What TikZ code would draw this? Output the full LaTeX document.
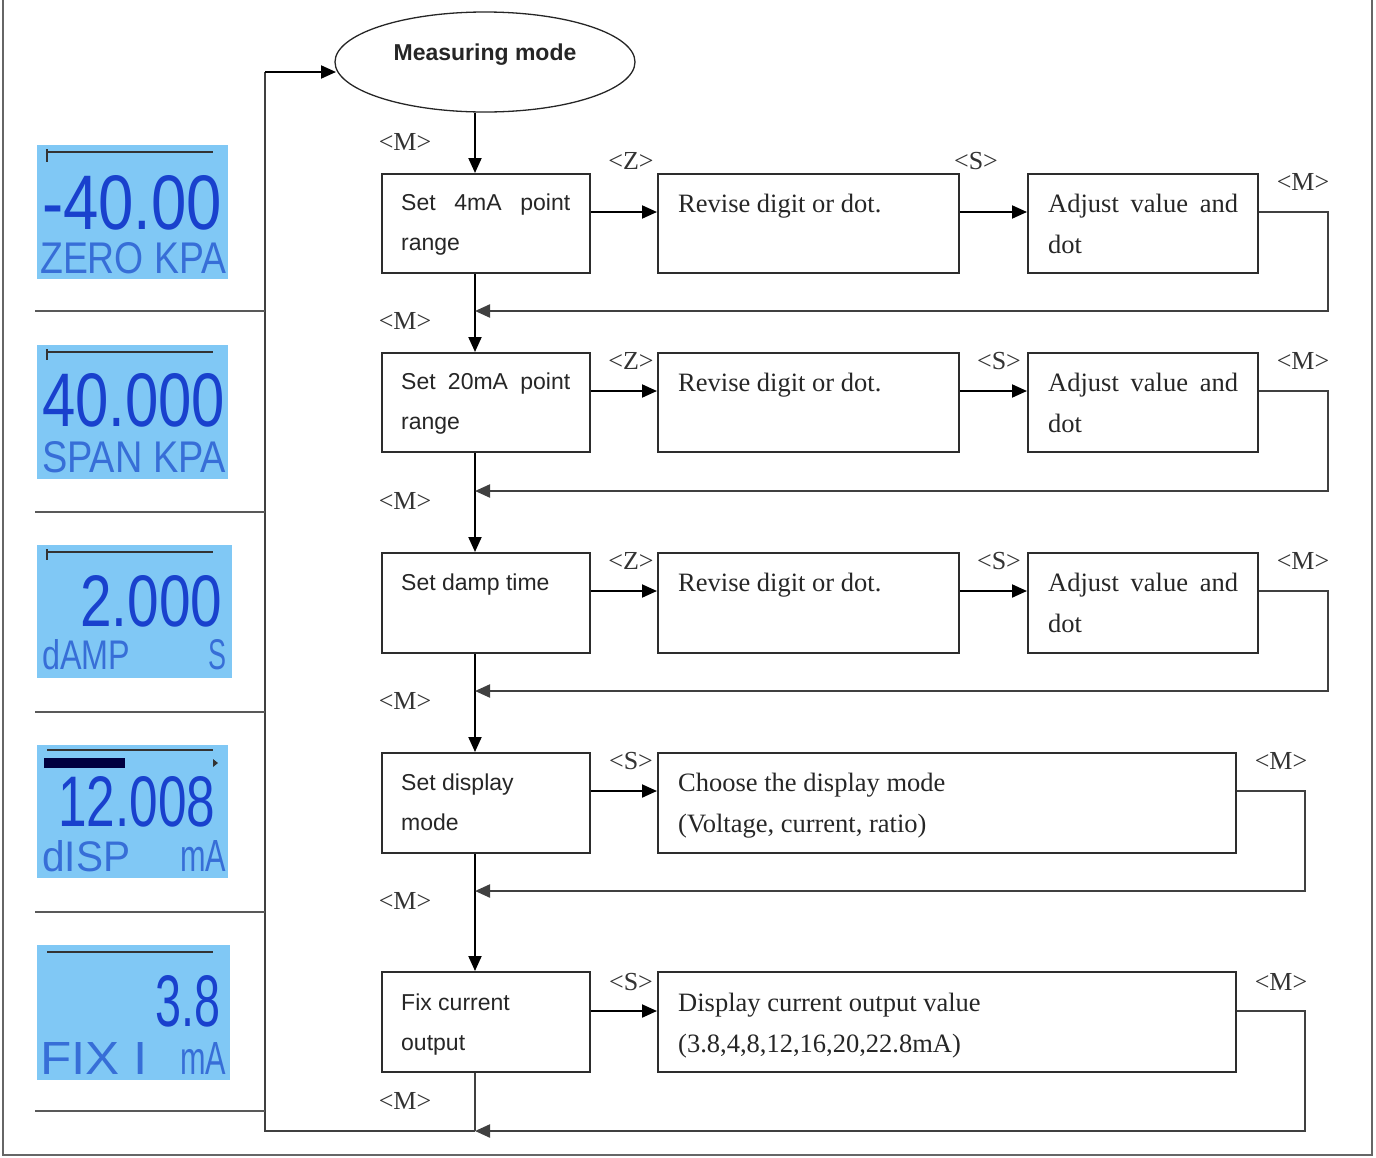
\documentclass[tikz,border=0pt]{standalone}
\usepackage{fontspec}
\setmainfont{Liberation Serif}
\setsansfont{Liberation Sans}
\usepackage{graphicx}
\usetikzlibrary{arrows.meta,shapes.geometric}
\definecolor{lcdbg}{RGB}{128,200,245}
\definecolor{lcdfg}{RGB}{25,65,205}
\definecolor{lcdlt}{RGB}{55,110,215}
\definecolor{boxln}{RGB}{45,45,45}
\begin{document}
\begin{tikzpicture}[x=1pt,y=-1pt,
  stepbox/.style={draw=boxln,line width=1.8pt,rectangle,inner sep=0pt,anchor=north west},
  lcd/.style={fill=lcdbg,draw=none,rectangle,inner sep=0pt,anchor=north west},
  arr/.style={draw=black,line width=2pt,-{Triangle[length=15pt,width=13pt]}},
  ret/.style={draw=black!75,line width=2.2pt,-{Triangle[length=15pt,width=13pt]}},
  ln/.style={draw=black!75,line width=2pt},
  sep/.style={draw=black!65,line width=1.4pt},
  sanstxt/.style={font=\sffamily\fontsize{23}{28}\selectfont,anchor=base west,inner sep=0pt,text=black!85},
  sertxt/.style={font=\fontsize{26.5}{32}\selectfont,anchor=base west,inner sep=0pt,text=black!85},
  keylbl/.style={font=\fontsize{26}{30}\selectfont,inner sep=0pt,text=black!80},
  big/.style={anchor=south west,inner sep=0pt,text=lcdfg,font=\sffamily},
  small/.style={anchor=south west,inner sep=0pt,text=lcdlt,font=\sffamily},
]
\useasboundingbox (0,0) rectangle (1376,1157);
% outer frame
\draw[black!60,line width=1.2pt] (3,0) -- (3,1155) -- (1372,1155) -- (1372,0);

% ---------- ellipse ----------
\node[draw=black!85,ellipse,line width=1.3pt,minimum width=300pt,minimum height=100pt,inner sep=0pt] (mm) at (485,62) {};
\node[font=\sffamily\bfseries\fontsize{23}{28}\selectfont,inner sep=0pt,text=black!85] (mmt) at (485,55) {Measuring mode};

% ---------- boxes ----------
\node[stepbox,minimum width=208pt,minimum height=99pt] (a1) at (381,173) {};
\node[stepbox,minimum width=301pt,minimum height=99pt] (b1) at (657,173) {};
\node[stepbox,minimum width=230pt,minimum height=99pt] (c1) at (1027,173) {};

\node[stepbox,minimum width=208pt,minimum height=99pt] (a2) at (381,352) {};
\node[stepbox,minimum width=301pt,minimum height=99pt] (b2) at (657,352) {};
\node[stepbox,minimum width=230pt,minimum height=99pt] (c2) at (1027,352) {};

\node[stepbox,minimum width=208pt,minimum height=100pt] (a3) at (381,552) {};
\node[stepbox,minimum width=301pt,minimum height=100pt] (b3) at (657,552) {};
\node[stepbox,minimum width=230pt,minimum height=100pt] (c3) at (1027,552) {};

\node[stepbox,minimum width=208pt,minimum height=100pt] (a4) at (381,752) {};
\node[stepbox,minimum width=578pt,minimum height=100pt] (b4) at (657,752) {};

\node[stepbox,minimum width=208pt,minimum height=100pt] (a5) at (381,971) {};
\node[stepbox,minimum width=578pt,minimum height=100pt] (b5) at (657,971) {};

% ---------- box texts ----------
\node[sanstxt] (ta1a) at (401,210) {\makebox[169pt][s]{Set 4mA point}};
\node[sanstxt] (ta1b) at (401,250) {range};
\node[sertxt] (tb1a) at (678,212) {Revise digit or dot.};
\node[sertxt] (tc1a) at (1048,212) {\makebox[190pt][s]{Adjust value and}};
\node[sertxt] (tc1b) at (1048,253) {dot};

\node[sanstxt] (ta2a) at (401,389) {\makebox[169pt][s]{Set 20mA point}};
\node[sanstxt] (ta2b) at (401,429) {range};
\node[sertxt] (tb2a) at (678,391) {Revise digit or dot.};
\node[sertxt] (tc2a) at (1048,391) {\makebox[190pt][s]{Adjust value and}};
\node[sertxt] (tc2b) at (1048,432) {dot};

\node[sanstxt] (ta3a) at (401,590) {Set damp time};
\node[sertxt] (tb3a) at (678,591) {Revise digit or dot.};
\node[sertxt] (tc3a) at (1048,591) {\makebox[190pt][s]{Adjust value and}};
\node[sertxt] (tc3b) at (1048,632) {dot};

\node[sanstxt] (ta4a) at (401,790) {Set display};
\node[sanstxt] (ta4b) at (401,830) {mode};
\node[sertxt] (tb4a) at (678,791) {Choose the display mode};
\node[sertxt] (tb4b) at (678,832) {(Voltage, current, ratio)};

\node[sanstxt] (ta5a) at (401,1010) {Fix current};
\node[sanstxt] (ta5b) at (401,1050) {output};
\node[sertxt] (tb5a) at (678,1011) {Display current output value};
\node[sertxt] (tb5b) at (678,1052) {(3.8,4,8,12,16,20,22.8mA)};

% ---------- key labels ----------
\node[keylbl] (m0) at (405,142) {<M>};
\node[keylbl] (z1) at (631,161) {<Z>};
\node[keylbl] (s1) at (976,161) {<S>};
\node[keylbl] (m1) at (1303,182) {<M>};
\node[keylbl] (m1b) at (405,321) {<M>};
\node[keylbl] (z2) at (631,361) {<Z>};
\node[keylbl] (s2) at (999,361) {<S>};
\node[keylbl] (m2) at (1303,361) {<M>};
\node[keylbl] (m2b) at (405,501) {<M>};
\node[keylbl] (z3) at (631,561) {<Z>};
\node[keylbl] (s3) at (999,561) {<S>};
\node[keylbl] (m3) at (1303,561) {<M>};
\node[keylbl] (m3b) at (405,701) {<M>};
\node[keylbl] (s4) at (631,761) {<S>};
\node[keylbl] (m4) at (1281,761) {<M>};
\node[keylbl] (m4b) at (405,901) {<M>};
\node[keylbl] (s5) at (631,982) {<S>};
\node[keylbl] (m5) at (1281,982) {<M>};
\node[keylbl] (m5b) at (405,1101) {<M>};

% ---------- coordinates ----------
\coordinate (sp) at (475,0);
\coordinate (r1) at (0,212);
\coordinate (r2) at (0,391);
\coordinate (r3) at (0,591);
\coordinate (r4) at (0,791);
\coordinate (r5) at (0,1011);
\coordinate (k1) at (1328,311); \coordinate (j1) at (475,311);
\coordinate (k2) at (1328,491); \coordinate (j2) at (475,491);
\coordinate (k3) at (1328,691); \coordinate (j3) at (475,691);
\coordinate (k4) at (1305,891); \coordinate (j4) at (475,891);
\coordinate (k5) at (1305,1131); \coordinate (j5) at (475,1131);
\coordinate (l5) at (265,1131);
\coordinate (l0) at (265,72);
\coordinate (mmin) at (336,72);

% ---------- connectors ----------
\draw[arr] (mm.south -| sp) -- (a1.north -| sp);
\foreach \i/\n in {1/2,2/3,3/4,4/5}{
  \draw[arr] (a\i.south -| sp) -- (a\n.north -| sp);
}
\foreach \i in {1,2,3}{
  \draw[arr] (a\i.east |- r\i) -- (b\i.west |- r\i);
  \draw[arr] (b\i.east |- r\i) -- (c\i.west |- r\i);
  \draw[ret] (c\i.east |- r\i) -| (k\i) -- (j\i);
}
\draw[arr] (a4.east |- r4) -- (b4.west |- r4);
\draw[ret] (b4.east |- r4) -| (k4) -- (j4);
\draw[arr] (a5.east |- r5) -- (b5.west |- r5);
\draw[ln] (a5.south -| sp) -- (j5);
\draw[ret] (b5.east |- r5) -| (k5) -- (j5);
\draw[ln] (j5) -- (l5) -- (l0);
\draw[arr] (l0) -- (mmin);

% left separators
\coordinate (e1) at (35,311); \coordinate (e2) at (35,512); \coordinate (e3) at (35,712);
\coordinate (e4) at (35,912); \coordinate (e5) at (35,1111);
\foreach \i in {1,...,5}{ \draw[sep] (e\i) -- (e\i -| l0); }

% ---------- LCD panels ----------
\node[lcd,minimum width=191pt,minimum height=134pt] (p1) at (37,145) {};
\draw[black!80,line width=1.3pt] (47,152) -- (213,152) (47,149) -- (47,162);
\node[big] (p1n) at (42,230) {\resizebox{180pt}{54pt}{-40.00}};
\node[small] (p1t) at (40,274) {\resizebox{186pt}{31pt}{ZERO KPA}};

\node[lcd,minimum width=191pt,minimum height=134pt] (p2) at (37,345) {};
\draw[black!80,line width=1.3pt] (47,352) -- (213,352) (47,349) -- (47,360);
\node[big] (p2n) at (42,427) {\resizebox{183pt}{53pt}{40.000}};
\node[small] (p2t) at (42,473) {\resizebox{184pt}{31pt}{SPAN KPA}};

\node[lcd,minimum width=195pt,minimum height=133pt] (p3) at (37,545) {};
\draw[black!80,line width=1.3pt] (47,552) -- (213,552) (47,549) -- (47,560);
\node[big] (p3n) at (80,627) {\resizebox{142pt}{51pt}{2.000}};
\node[small] (p3t) at (42,670) {\resizebox{88pt}{30pt}{dAMP}};
\node[small] (p3u) at (208,670) {\resizebox{18pt}{30pt}{S}};

\node[lcd,minimum width=191pt,minimum height=133pt] (p4) at (37,745) {};
\draw[black!80,line width=1.3pt] (47,750) -- (213,750);
\fill[black!75!blue] (44,758) rectangle (125,768);
\fill[black!80] (213,759) -- (218,763) -- (213,767) -- cycle;
\node[big] (p4n) at (58,827) {\resizebox{157pt}{50pt}{12.008}};
\node[small] (p4t) at (42,872) {\resizebox{88pt}{31pt}{dISP}};
\node[small] (p4u) at (180,872) {\resizebox{46pt}{31pt}{mA}};

\node[lcd,minimum width=193pt,minimum height=135pt] (p5) at (37,945) {};
\draw[black!80,line width=1.3pt] (47,952) -- (213,952);
\node[big] (p5n) at (155,1027) {\resizebox{65pt}{51pt}{3.8}};
\node[small] (p5t) at (40,1075) {\resizebox{108pt}{32pt}{FIX I}};
\node[small] (p5u) at (180,1075) {\resizebox{46pt}{32pt}{mA}};
\end{tikzpicture}
\end{document}
